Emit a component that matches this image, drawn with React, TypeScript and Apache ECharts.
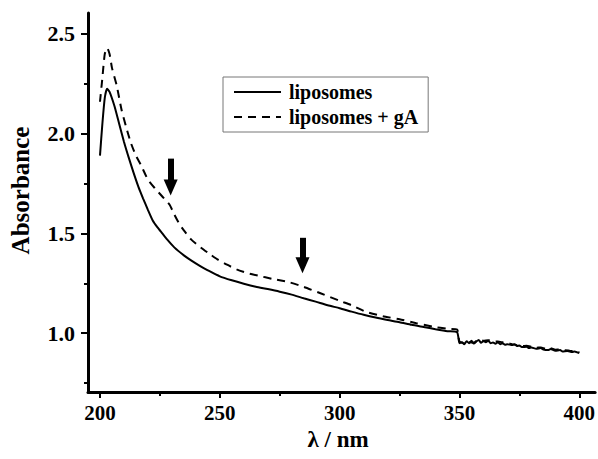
import React, { useEffect, useRef } from "react";
import * as echarts from "echarts";

// Wavelength (nm) and absorbance for the pure liposome spectrum (solid line)
const wlSolid = [
  200, 201, 202, 203, 204, 206, 208, 210, 212, 214, 216, 218, 220, 222, 224, 226, 228, 231, 235,
  238, 242, 245, 250, 255, 260, 265, 270, 275, 280, 285, 290, 295, 300, 305, 310, 315, 320, 325,
  330, 335, 340, 345, 349, 350, 351, 352, 353, 354, 355, 356, 357, 358, 359, 360, 361, 362, 363,
  364, 365, 366, 367, 368, 369, 370, 372, 373, 374, 375, 376, 378, 379, 380, 382, 384, 385, 387,
  388, 390, 392, 393, 395, 397, 398, 400,
];
const absSolid = [
  1.89, 2.05, 2.18, 2.225, 2.21, 2.14, 2.05, 1.96, 1.88, 1.805, 1.735, 1.675, 1.618, 1.565, 1.53,
  1.5, 1.47, 1.43, 1.39, 1.365, 1.335, 1.315, 1.285, 1.265, 1.248, 1.233, 1.221, 1.208, 1.193,
  1.175, 1.158, 1.14, 1.125, 1.108, 1.092, 1.078, 1.066, 1.055, 1.042, 1.031, 1.02, 1.01, 1.005,
  0.95, 0.955, 0.945, 0.96, 0.95, 0.962, 0.948, 0.958, 0.966, 0.952, 0.96, 0.955, 0.962, 0.95,
  0.953, 0.947, 0.955, 0.944, 0.95, 0.942, 0.945, 0.94, 0.945, 0.935, 0.938, 0.93, 0.932, 0.925,
  0.928, 0.922, 0.925, 0.918, 0.915, 0.92, 0.912, 0.915, 0.908, 0.91, 0.905, 0.908, 0.9,
];

// Liposomes + gA spectrum (dashed line)
const wlDashed = [
  200, 201, 202, 203, 204, 205, 207, 209, 211, 213, 215, 217, 220, 223, 226, 229, 231, 233, 235,
  238, 242, 246, 249, 253, 257, 261, 266, 272, 279, 285, 292, 300, 305, 311, 318, 325, 332, 339,
  345, 349, 350, 352, 354, 356, 358, 360, 362, 364, 366, 368, 370, 372, 374, 376, 378, 380, 382,
  384, 386, 388, 390, 392, 394, 396, 398, 400,
];
const absDashed = [
  2.16, 2.28, 2.4, 2.43, 2.4, 2.33, 2.24, 2.12, 2.03, 1.95, 1.89, 1.845, 1.77, 1.725, 1.685, 1.645,
  1.595, 1.55, 1.515, 1.47, 1.43, 1.395, 1.37, 1.343, 1.32, 1.303, 1.288, 1.272, 1.255, 1.232, 1.2,
  1.162, 1.14, 1.107, 1.085, 1.07, 1.05, 1.032, 1.022, 1.018, 0.958, 0.95, 0.955, 0.952, 0.968,
  0.962, 0.965, 0.957, 0.958, 0.954, 0.95, 0.945, 0.94, 0.935, 0.937, 0.932, 0.927, 0.928, 0.922,
  0.924, 0.917, 0.918, 0.914, 0.912, 0.91, 0.905,
];

const xMajorTicks = [200, 250, 300, 350, 400];
const xMinorTicks = [225, 275, 325, 375];
const yMajorTicks = [1.0, 1.5, 2.0, 2.5];
const yMinorTicks = [0.75, 1.25, 1.75, 2.25];

// Arrow annotations: wavelength, top of shaft, arrow end
const arrowWl = [229.5, 284.5];
const arrowTop = [1.875, 1.478];
const arrowEnd = [1.73, 1.34];

const seriesNames = ["liposomes", "liposomes + gA"];

const FONT = "'Liberation Serif', 'Times New Roman', serif";

export default function App() {
  const ref = useRef<HTMLDivElement>(null);

  useEffect(() => {
    if (!ref.current) return;
    const chart = echarts.init(ref.current, undefined, { renderer: "svg" });
    const textBase = { fontFamily: FONT, fontWeight: "bold" as const, color: "#000" };
    const xMin = 195;
    const xMax = 406.6;
    const yMin = 0.705;
    const yMax = 2.605;

    chart.setOption({
      animation: false,
      backgroundColor: "#fff",
      grid: { left: 86, right: 1, top: 13, bottom: 67 },
      legend: {
        orient: "vertical",
        left: 223,
        top: 77,
        padding: [5, 10, 5, 10],
        itemWidth: 47,
        itemHeight: 20,
        itemGap: 5,
        borderColor: "#777",
        borderWidth: 1,
        selectedMode: false,
        itemStyle: { opacity: 0 },
        textStyle: { ...textBase, fontSize: 20, padding: [0, 0, 0, 3] },
        data: seriesNames,
      },
      xAxis: [
        {
          type: "value",
          min: xMin,
          max: xMax,
          position: "bottom",
          axisLine: { show: true, onZero: false, lineStyle: { color: "#000", width: 3 } },
          axisTick: { show: true, customValues: xMajorTicks, length: 6, lineStyle: { color: "#000", width: 2 } },
          axisLabel: { customValues: xMajorTicks, margin: 10, ...textBase, fontSize: 21 },
          splitLine: { show: false },
          name: "λ / nm",
          nameLocation: "middle",
          nameGap: 36,
          nameTextStyle: { ...textBase, fontSize: 23, padding: [0, 7, 0, 0] },
        },
        {
          type: "value",
          min: xMin,
          max: xMax,
          position: "bottom",
          axisLine: { show: false, onZero: false },
          axisTick: { show: true, customValues: xMinorTicks, length: 4, lineStyle: { color: "#000", width: 2 } },
          axisLabel: { show: false },
          splitLine: { show: false },
        },
      ],
      yAxis: [
        {
          type: "value",
          min: yMin,
          max: yMax,
          position: "left",
          axisLine: { show: true, onZero: false, lineStyle: { color: "#000", width: 3 } },
          axisTick: { show: true, customValues: yMajorTicks, length: 7, lineStyle: { color: "#000", width: 2 } },
          axisLabel: {
            customValues: yMajorTicks,
            margin: 13,
            formatter: (v: number) => v.toFixed(1),
            ...textBase,
            fontSize: 22,
          },
          splitLine: { show: false },
          name: "Absorbance",
          nameLocation: "middle",
          nameGap: 55,
          nameTextStyle: { ...textBase, fontSize: 25, padding: [0, 0, 0, 24] },
        },
        {
          type: "value",
          min: yMin,
          max: yMax,
          position: "left",
          axisLine: { show: false, onZero: false },
          axisTick: { show: true, customValues: yMinorTicks, length: 4, lineStyle: { color: "#000", width: 2 } },
          axisLabel: { show: false },
          splitLine: { show: false },
        },
      ],
      series: [
        {
          name: seriesNames[0],
          type: "line",
          xAxisIndex: 0,
          yAxisIndex: 0,
          showSymbol: false,
          symbol: "none",
          silent: true,
          smooth: 0.2,
          lineStyle: { color: "#000", width: 2, type: "solid" },
          itemStyle: { color: "#000" },
          data: wlSolid.map((w, i) => [w, absSolid[i]]),
          markLine: {
            silent: true,
            symbol: ["none", "triangle"],
            symbolSize: [14, 16],
            label: { show: false },
            lineStyle: { color: "#000", width: 6, type: "solid" },
            itemStyle: { color: "#000" },
            data: arrowWl.map((w, i) => [
              { coord: [w, arrowTop[i]] },
              { coord: [w, arrowEnd[i]] },
            ]),
          },
        },
        {
          name: seriesNames[1],
          type: "line",
          xAxisIndex: 0,
          yAxisIndex: 0,
          showSymbol: false,
          symbol: "none",
          silent: true,
          smooth: 0.2,
          lineStyle: { color: "#000", width: 2, type: [8, 6] },
          itemStyle: { color: "#000" },
          data: wlDashed.map((w, i) => [w, absDashed[i]]),
        },
      ],
    });

    return () => chart.dispose();
  }, []);

  return (
    <div
      ref={ref}
      style={{ position: "absolute", left: 0, top: 0, width: 598, height: 459, background: "#fff" }}
    />
  );
}
